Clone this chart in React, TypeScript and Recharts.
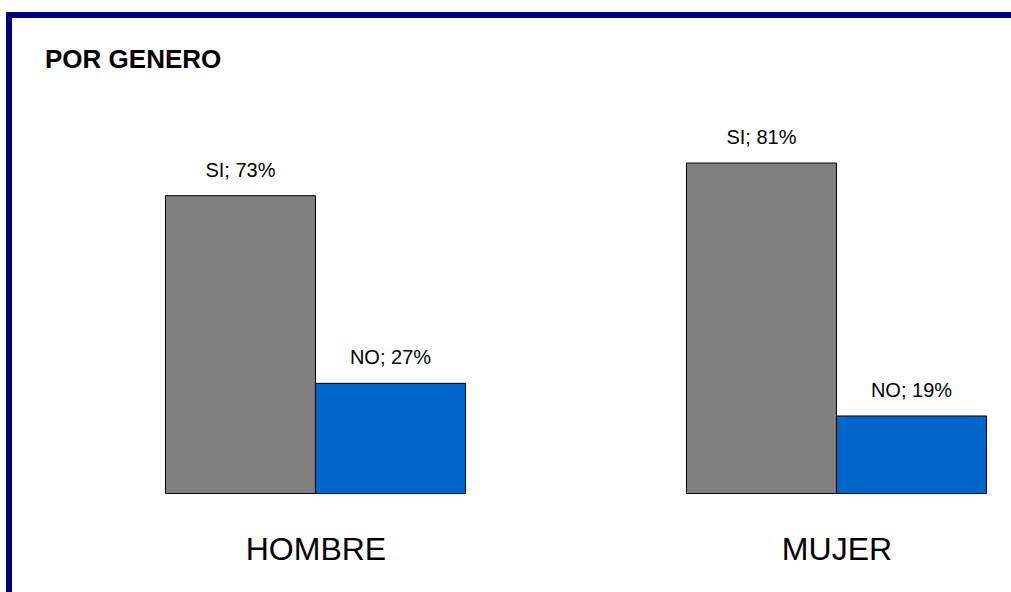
import React from 'react';
import { BarChart, Bar, XAxis, YAxis, LabelList } from 'recharts';

const categories = ['HOMBRE', 'MUJER'];
const siValues = [73, 81];
const noValues = [27, 19];
const tickPositions = [0, 1];

const data = categories.map((c, i) => ({ idx: i, cat: c, SI: siValues[i], NO: noValues[i] }));

const FONT = '"Liberation Sans", Arial, Helvetica, sans-serif';

const CategoryTick = (props: any) => {
  const { x, y, payload } = props;
  return (
    <text x={x} y={y} dy={66} textAnchor="middle" fontSize={32} fontFamily={FONT} fill="#000">
      {categories[payload.value]}
    </text>
  );
};

export default function App() {
  return (
    <div style={{ position: 'absolute', left: 0, top: 0, width: 1011, height: 592, overflow: 'hidden', background: '#fff' }}>
      <div style={{ position: 'absolute', left: 6, top: 12, width: 1100, height: 700, border: '6px solid #000080', boxSizing: 'border-box' }} />
      <svg style={{ position: 'absolute', left: 0, top: 0 }} width={1011} height={592}>
        <text x={45} y={68} fontSize={26} fontWeight="bold" fontFamily={FONT} fill="#000">POR GENERO</text>
      </svg>
      <div style={{ position: 'absolute', left: 0, top: 0 }}>
        <BarChart
          width={1011}
          height={592}
          data={data}
          barGap={0}
          margin={{ top: 85.5, bottom: 68.5, left: 20, right: 11 }}
        >
          <XAxis
            dataKey="idx"
            type="number"
            domain={[-0.5681, 1.3129]}
            allowDataOverflow
            ticks={tickPositions}
            axisLine={false}
            tickLine={false}
            tickSize={0}
            tickMargin={0}
            tick={<CategoryTick />}
            interval={0}
          />
          <YAxis hide domain={[0, 100]} />
          <Bar dataKey="SI" fill="#808080" stroke="#000" strokeWidth={1} barSize={150} isAnimationActive={false}>
            <LabelList
              dataKey="SI"
              position="top"
              offset={19}
              formatter={(v: any) => `SI; ${v}%`}
              fontSize={20}
              fontFamily={FONT}
              fill="#000"
            />
          </Bar>
          <Bar dataKey="NO" fill="#0066CC" stroke="#000" strokeWidth={1} barSize={150} isAnimationActive={false}>
            <LabelList
              dataKey="NO"
              position="top"
              offset={19}
              formatter={(v: any) => `NO; ${v}%`}
              fontSize={20}
              fontFamily={FONT}
              fill="#000"
            />
          </Bar>
        </BarChart>
      </div>
    </div>
  );
}
